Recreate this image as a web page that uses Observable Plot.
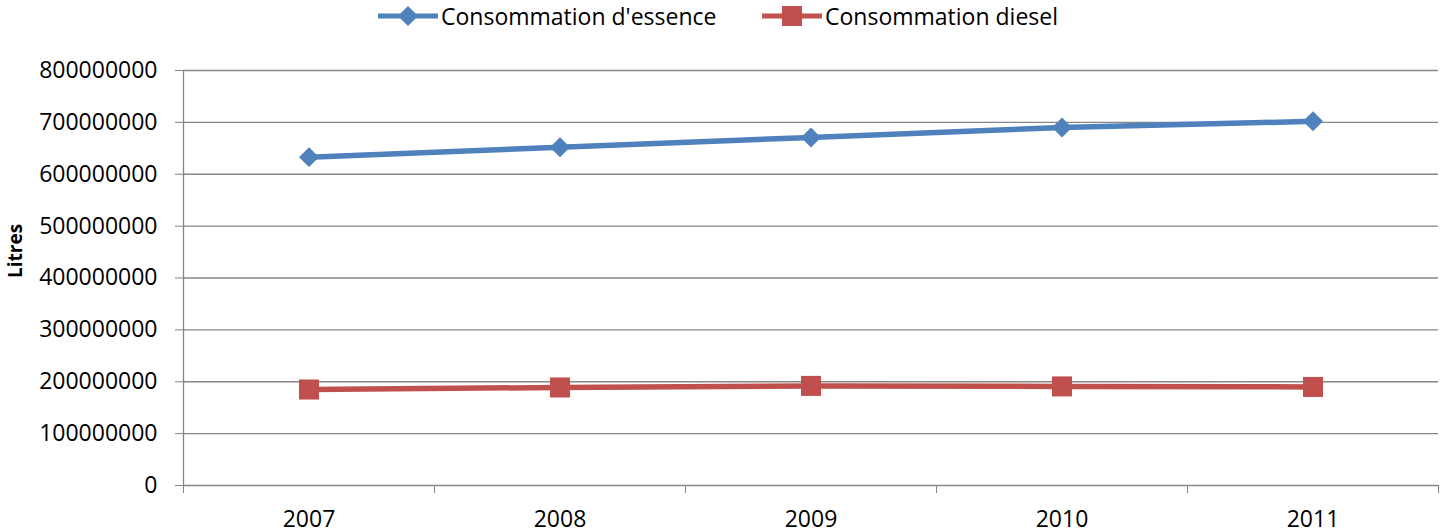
<!DOCTYPE html>
<html><head><meta charset="utf-8">
<script src="https://cdn.jsdelivr.net/npm/d3@7"></script>
<script src="https://cdn.jsdelivr.net/npm/@observablehq/plot@0.6"></script>
<style>
body{margin:0;background:#fff;font-family:"Open Sans",sans-serif;}
#legend{position:relative;height:35px;width:1441px;}
.item{position:absolute;top:-2px;height:35px;display:flex;align-items:center;font-size:23px;color:#000;white-space:nowrap;}
.item svg{margin-right:3px;}
</style></head><body>
<div id="legend"></div>
<div id="chart"></div>
<script>
const years = [2007, 2008, 2009, 2010, 2011];
const essence = [633e6, 652e6, 671e6, 690e6, 702e6];
const diesel = [185e6, 189e6, 192e6, 191e6, 190e6];
const yTicks = [0, 1e8, 2e8, 3e8, 4e8, 5e8, 6e8, 7e8, 8e8];
const seriesNames = ["Consommation d'essence", "Consommation diesel"];
const colors = ["#4F81BD", "#C0504D"];
const symbols = ["diamond2", "square"];
const symbolR = [9, 11.3];

const rows = [];
years.forEach((y, i) => {
  rows.push({year: y, value: essence[i], series: seriesNames[0]});
  rows.push({year: y, value: diesel[i], series: seriesNames[1]});
});
const xBounds = years.map(y => y - 0.5).concat([years[years.length - 1] + 0.5]);
const grid = "#868686";

// Legend
const legend = document.getElementById("legend");
const legendLeft = [378, 762];
seriesNames.forEach((name, i) => {
  const item = document.createElement("div");
  item.className = "item";
  item.style.left = legendLeft[i] + "px";
  const svg = d3.create("svg").attr("width", 60).attr("height", 24);
  svg.append("line").attr("x1", 0).attr("x2", 60).attr("y1", 12).attr("y2", 12)
    .attr("stroke", colors[i]).attr("stroke-width", 5);
  const sym = i === 0 ? d3.symbolDiamond2 : d3.symbolSquare;
  const size = Math.PI * symbolR[i] * symbolR[i];
  svg.append("path").attr("d", d3.symbol(sym, size)()).attr("transform", "translate(30,12)")
    .attr("fill", colors[i]);
  item.appendChild(svg.node());
  const span = document.createElement("span");
  span.textContent = name;
  item.appendChild(span);
  legend.appendChild(item);
});

const plot = Plot.plot({
  width: 1441,
  height: 497,
  marginTop: 35,
  marginBottom: 47,
  marginLeft: 183,
  marginRight: 3,
  style: {fontFamily: "Open Sans", fontSize: "23px", color: "#000", background: "#fff", overflow: "visible"},
  x: {type: "linear", domain: [xBounds[0], xBounds[xBounds.length - 1]]},
  y: {domain: [0, 8e8]},
  marks: [
    Plot.ruleY(yTicks, {stroke: grid, strokeWidth: 1.3}),
    Plot.ruleX([xBounds[0]], {stroke: grid, strokeWidth: 1.3}),
    Plot.axisY({ticks: yTicks, tickSize: 8, tickPadding: 18, tickFormat: d3.format("d"), stroke: grid, fill: "#000", label: null, fontSize: 23}),
    Plot.axisX({ticks: xBounds, tickSize: 8, tickFormat: () => "", stroke: grid, label: null}),
    Plot.axisX({ticks: years, tickSize: 0, tickPadding: 25, tickFormat: d => String(d), fill: "#000", label: null, fontSize: 23}),
    Plot.text(["Litres"], {frameAnchor: "left", dx: -168, rotate: -90, fontWeight: "bold", fontSize: 19, fill: "#000"}),
    Plot.line(rows, {x: "year", y: "value", z: "series", stroke: d => colors[seriesNames.indexOf(d.series)], strokeWidth: 5.5}),
    Plot.dot(rows.filter(d => d.series === seriesNames[0]), {x: "year", y: "value", symbol: symbols[0], r: symbolR[0], fill: colors[0], stroke: null}),
    Plot.dot(rows.filter(d => d.series === seriesNames[1]), {x: "year", y: "value", symbol: symbols[1], r: symbolR[1], fill: colors[1], stroke: null})
  ]
});
document.getElementById("chart").appendChild(plot);
</script>
</body></html>
